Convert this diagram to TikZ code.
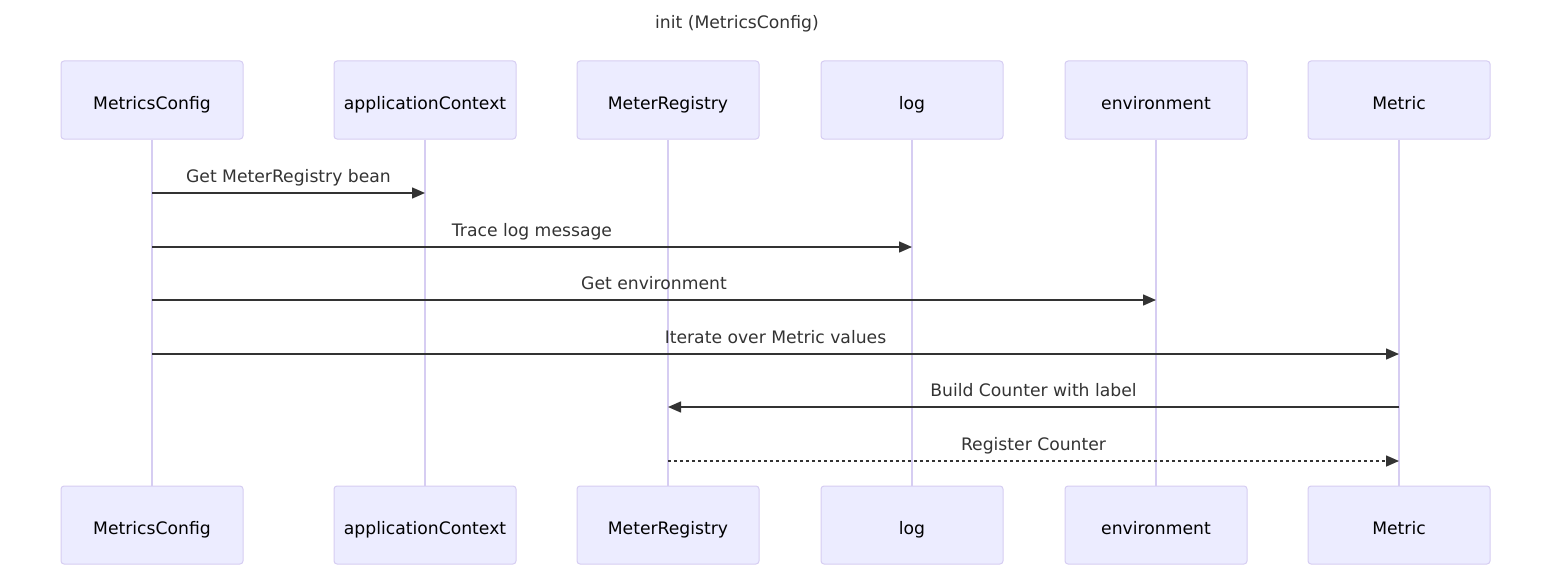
\documentclass[tikz,border=0pt]{standalone}
\usepackage{fontspec}
\setmainfont{DejaVu Sans}
\usetikzlibrary{arrows.meta}
\definecolor{actorfill}{HTML}{ECECFF}
\definecolor{actorline}{HTML}{D6CDF2}
\definecolor{msgline}{HTML}{333333}
\tikzset{actor/.style={draw=actorline,fill=actorfill,rounded corners=3pt,
           minimum width=182pt,minimum height=78pt,line width=1pt,
           text height=18pt,text depth=0pt,
           font=\fontsize{17.2}{20}\selectfont},
         lifeline/.style={draw=actorline,line width=2pt},
         msg/.style={draw=msgline,line width=1.5pt,
           -{Triangle[length=13pt,width=11pt]}},
         reply/.style={msg,dash pattern=on 3pt off 3pt},
         msglabel/.style={text=msgline,font=\fontsize{17.2}{20}\selectfont,
           inner sep=0pt,text depth=0pt}}

\begin{document}
\begin{tikzpicture}[x=1pt,y=-1pt]
  \useasboundingbox (0,0) rectangle (1568,586);
  \node[msglabel] (title) at (737,22) {init (MetricsConfig)};
  % actors, top and bottom
  \foreach \name/\xpos/\txt in {mc/152/MetricsConfig,ac/425/applicationContext,
      mr/668/MeterRegistry,lg/912/log,env/1156/environment,met/1399/Metric}
  {
    \node[actor] (\name top) at (\xpos,100) {\txt};
    \node[actor] (\name bot) at (\xpos,525) {\txt};
    \draw[lifeline] (\name top) -- (\name bot);
  }
  % points on the lifelines
  \path (mctop.south |- 0,193) coordinate (mc1)
        (actop.south |- 0,193) coordinate (ac1)
        (mctop.south |- 0,247) coordinate (mc2)
        (lgtop.south |- 0,247) coordinate (lg2)
        (mctop.south |- 0,300) coordinate (mc3)
        (envtop.south |- 0,300) coordinate (env3)
        (mctop.south |- 0,354) coordinate (mc4)
        (mettop.south |- 0,354) coordinate (met4)
        (mettop.south |- 0,407) coordinate (met5)
        (mrtop.south |- 0,407) coordinate (mr5)
        (mrtop.south |- 0,461) coordinate (mr6)
        (mettop.south |- 0,461) coordinate (met6);
  % messages
  \draw[msg] (mc1) -- node[msglabel,above=10pt] {Get MeterRegistry bean} (ac1);
  \draw[msg] (mc2) -- node[msglabel,above=10pt] {Trace log message} (lg2);
  \draw[msg] (mc3) -- node[msglabel,above=10pt] {Get environment} (env3);
  \draw[msg] (mc4) -- node[msglabel,above=10pt] {Iterate over Metric values} (met4);
  \draw[msg] (met5) -- node[msglabel,above=10pt] {Build Counter with label} (mr5);
  \draw[reply] (mr6) -- node[msglabel,above=10pt] {Register Counter} (met6);
\end{tikzpicture}
\end{document}
